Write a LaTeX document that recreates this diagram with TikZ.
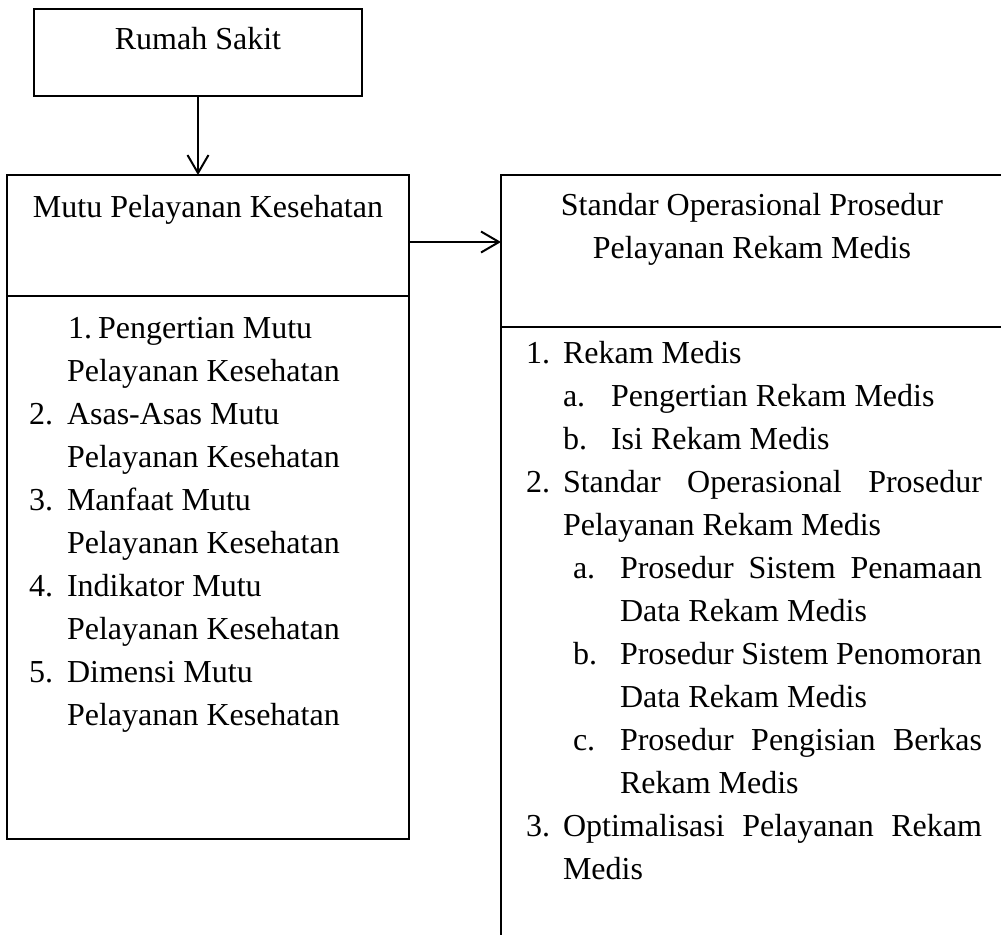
\documentclass[tikz,border=0pt]{standalone}
\usepackage{fontspec}
\setmainfont{Liberation Serif}
\usetikzlibrary{arrows.meta,positioning}

\newcommand{\rataline}[2]{\makebox[#1][s]{#2}}

\begin{document}
\begin{tikzpicture}[x=0.5pt, y=-0.5pt, line width=1pt,
    >={Straight Barb[length=9pt, width=10.5pt]},
    box/.style={rectangle, draw, inner sep=0pt, outer sep=0pt},
    txt/.style={inner sep=0pt, anchor=base west, font=\fontsize{16}{21.5}\selectfont},
    ctxt/.style={txt, anchor=base}]

    \useasboundingbox (0,0) rectangle (1001,934);

    % boxes
    \node [box, minimum width=164pt, minimum height=43.5pt] (rs) at (198,52.5) {};
    \node [box, minimum width=201pt, minimum height=60.5pt] (mutu) at (208,235.5) {};
    \node [box, minimum width=201pt, minimum height=271.5pt, below=0pt of mutu] (mutuisi) {};
    \node [box, minimum width=251pt, minimum height=76pt] (sop) at (752,251) {};
    \node [box, minimum width=251pt, minimum height=320pt, below=0pt of sop] (sopisi) {};

    % titles
    \node [ctxt] (rst) at (198,49) {Rumah Sakit};
    \node [ctxt] (mutut) at (208,217) {Mutu Pelayanan Kesehatan};
    \node [ctxt] (sopt1) at (752,215) {Standar Operasional Prosedur};
    \node [ctxt] (sopt2) at (752,258) {Pelayanan Rekam Medis};

    % arrows
    \draw [->] (rs.south) -- (rs.south |- mutu.north);
    \coordinate (m2s) at ([yshift=-3.25pt]mutu.east);
    \draw [->] (m2s) -- (m2s -| sop.west);

    % left list
    \foreach \y/\x/\n [count=\i] in {338/67/1., 424/28/2., 510/28/3., 596/28/4., 682/28/5.}
        \node [txt] (lnum\i) at (\x,\y) {\n};
    \foreach \y/\x/\t [count=\i] in {338/97/Pengertian Mutu, 381/66/Pelayanan Kesehatan,
        424/66/Asas-Asas Mutu, 467/66/Pelayanan Kesehatan,
        510/66/Manfaat Mutu, 553/66/Pelayanan Kesehatan,
        596/66/Indikator Mutu, 639/66/Pelayanan Kesehatan,
        682/66/Dimensi Mutu, 725/66/Pelayanan Kesehatan}
        \node [txt] (ltxt\i) at (\x,\y) {\t};

    % right list
    \foreach \y/\x/\n [count=\i] in {363/525/1., 406/562/a., 449/562/b., 492/525/2.,
        578/572/a., 664/572/b., 750/572/c., 836/525/3.}
        \node [txt] (rnum\i) at (\x,\y) {\n};
    \foreach \y/\x/\t [count=\i] in {363/562/Rekam Medis, 406/610/Pengertian Rekam Medis,
        449/610/Isi Rekam Medis,
        492/562/{\rataline{209.5pt}{Standar Operasional Prosedur}},
        535/562/Pelayanan Rekam Medis,
        578/619/{\rataline{181pt}{Prosedur Sistem Penamaan}},
        621/619/Data Rekam Medis,
        664/619/{\rataline{181pt}{Prosedur Sistem Penomoran}},
        707/619/Data Rekam Medis,
        750/619/{\rataline{181pt}{Prosedur Pengisian Berkas}},
        793/619/Rekam Medis,
        836/562/{\rataline{209.5pt}{Optimalisasi Pelayanan Rekam}},
        879/562/Medis}
        \node [txt] (rtxt\i) at (\x,\y) {\t};
\end{tikzpicture}
\end{document}
